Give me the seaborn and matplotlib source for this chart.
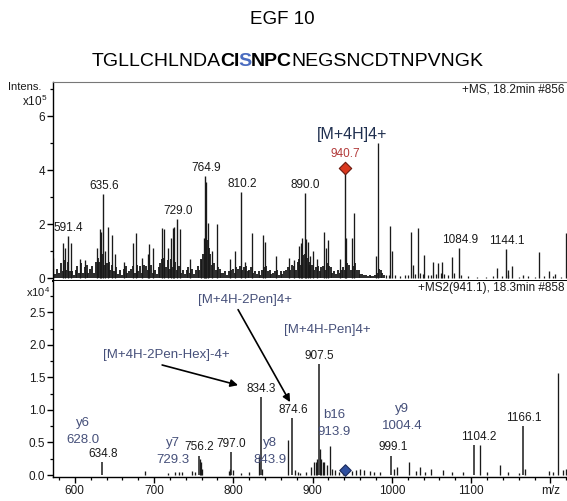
import matplotlib
matplotlib.use("Agg")
import matplotlib.pyplot as plt
from matplotlib.ticker import MultipleLocator, FixedLocator, FixedFormatter, NullLocator
import pandas as pd
import seaborn as sns

# ---------------- data ----------------
title = "EGF 10"
seq_text = ["TGLLCHLNDA", "CI", "S", "NPC", "NEGSNCDTNPVNGK"]
seq_weight = ["normal", "bold", "bold", "bold", "normal"]
seq_color = ["black", "black", "#4a6cc0", "black", "black"]

# MS scan, intensity in units of 1e5
ms1_peak_mz = [573, 585, 587.5, 595, 606, 613, 628, 631.8, 633, 638,
               642, 647, 651, 662, 673.4, 677, 685, 692, 694, 699,
               710, 712.6, 717, 721, 724, 725.5, 732.7, 745, 759, 763,
               765.8, 768, 773, 779.4, 796, 802, 815, 823.6, 837.5, 840,
               854, 870, 876, 883, 885, 887, 892, 894, 897, 901,
               906, 914.5, 917, 919.6, 934, 942.3, 950, 952.2, 980, 983,
               997.7, 1000, 1023.9, 1027, 1033.4, 1040.6, 1052, 1058.3, 1063.4, 1075.6,
               1133, 1146.5, 1151, 1165.5, 1185.7, 1198, 1206, 1219.4]
ms1_peak_int = [.75, 1.3, 1.1, 1.3, .7, .65, 1.1, 1.8, 1.7, 1.0,
                1.9, 1.6, .9, .6, 1.3, 1.65, .75, .9, 1.25, 1.1,
                1.85, 1.8, 1.1, 1.5, 1.85, 1.9, 1.8, .7, .7, 1.5,
                3.55, 2.05, 1.0, 2.0, .7, 1.0, .6, 1.65, 1.6, 1.35,
                .8, .75, .65, 1.2, 1.3, 1.5, 1.45, 1.35, .8, 1.0,
                .7, 1.7, 1.1, 1.4, .7, 1.5, 1.5, 2.4, .8, 5.0,
                1.93, 1.0, 1.7, .5, 1.86, .85, .6, .55, .6, .78,
                .37, .3, .45, .12, .95, .25, .15, 1.67]

# dense low-level signal under the MS scan
ms1_grass_mz = [573, 575, 577.5, 580, 582, 584.5, 587, 589, 591.5, 594,
                596, 598.5, 601, 603, 605.5, 608, 610, 612.5, 615, 617,
                619.5, 622, 624, 626.5, 629, 631, 633.5, 636, 638, 640.5,
                643, 645, 647.5, 650, 652, 654.5, 657, 659, 661.5, 664,
                666, 668.5, 671, 673, 675.5, 678, 680, 682.5, 685, 687,
                689.5, 692, 694, 696.5, 699, 701, 703.5, 706, 708, 710.5,
                713, 715, 717.5, 720, 722, 724.5, 727, 729, 731.5, 734,
                736, 738.5, 741, 743, 745.5, 748, 750, 752.5, 755, 757,
                759.5, 762, 764, 766.5, 769, 771, 773.5, 776, 778, 780.5,
                783, 785, 787.5, 790, 792, 794.5, 797, 799, 801.5, 804,
                806, 808.5, 811, 813, 815.5, 818, 820, 822.5, 825, 827,
                829.5, 832, 834, 836.5, 839, 841, 843.5, 846, 848, 850.5,
                853, 855, 857.5, 860, 862, 864.5, 867, 869, 871.5, 874,
                876, 878.5, 881, 883, 885.5, 888, 890, 892.5, 895, 897,
                899.5, 902, 904, 906.5, 909, 911, 913.5, 916, 918, 920.5,
                923, 925, 927.5, 930, 932, 934.5, 937, 939, 941.5, 944,
                946, 948.5, 951, 953, 955.5, 958, 960, 962.5, 965, 967,
                969.5, 972, 974, 976.5, 979, 981, 983.5, 986, 988, 990.5]
ms1_grass_int = [.4, .15, .35, .2, .55, .25, .65, .3, .6, .25,
                 .25, .12, .3, .45, .2, .55, .2, .4, .5, .2,
                 .35, .45, .2, .6, .75, .6, 1.1, .9, .5, .55,
                 .6, .3, .5, .25, .4, .15, .3, .12, .35, .45,
                 .2, .25, .35, .45, .2, .5, .25, .45, .2, .5,
                 .45, .3, .4, .5, .2, .3, .15, .4, .55, .7,
                 .75, .4, .65, .35, .7, .4, .6, .3, .45, .2,
                 .3, .15, .3, .4, .2, .35, .15, .3, .45, .3,
                 .7, .9, 1.2, 1.4, 1.1, .9, .5, .55, .3, .4,
                 .35, .2, .2, .25, .1, .25, .3, .35, .2, .4,
                 .35, .45, .3, .4, .45, .25, .3, .4, .2, .25,
                 .15, .25, .12, .3, .4, .45, .25, .3, .15, .2,
                 .25, .3, .12, .25, .15, .25, .3, .4, .3, .5,
                 .45, .3, .6, .7, .5, .85, .9, .75, .5, .6,
                 .5, .3, .4, .45, .25, .4, .45, .3, .55, .45,
                 .4, .2, .25, .15, .3, .2, .3, .4, .3, .55,
                 .5, .3, .45, .55, .3, .3, .15, .15, .1, .12,
                 .08, .1, .06, .08, .1, .2, .35, .3, .2, .12]

ms1_minor_mz = [993, 996, 1004, 1010, 1016, 1021, 1029, 1036, 1039, 1045,
                1049, 1056, 1062, 1066, 1071, 1079, 1087, 1096, 1108, 1119,
                1128, 1139, 1147, 1160, 1172, 1181, 1192, 1203, 1214]
ms1_minor_int = [.1, .12, .1, .08, .12, .1, .15, .2, .15, .12,
                 .1, .15, .2, .15, .12, .18, .1, .06, .05, .05,
                 .06, .08, .12, .05, .06, .05, .08, .06, .05]

ms1_lab_mz = [591.4, 635.6, 729.0, 764.9, 810.2, 890.0, 1084.9, 1144.1]
ms1_lab_int = [1.55, 3.1, 2.2, 3.78, 3.2, 3.15, 1.12, 1.07]
prec_mz = 940.7
prec_int = 4.07
prec_label = "[M+4H]4+"

# MS2 scan, intensity in units of 1e4
ms2_peak_mz = [689, 718, 727, 731, 735, 748, 752, 757.5, 759, 760.5,
               794, 796, 799, 810, 820, 833, 836, 869, 878, 881,
               884, 892, 898, 902, 904, 906, 909.5, 911, 913, 915,
               918, 922, 925, 928, 933, 938, 950, 955, 960, 965,
               972, 978, 985, 1003, 1007, 1022, 1030, 1036, 1042, 1050,
               1064, 1076, 1090, 1111.3, 1120, 1137, 1147, 1160, 1168, 1198,
               1203, 1209.7, 1216, 1220]
ms2_peak_int = [.06, .03, .04, .05, .04, .06, .05, .25, .2, .1,
                .06, .1, .08, .03, .05, .3, .1, .54, .08, .05,
                .03, .04, .12, .2, .2, .25, .4, .25, .2, .2,
                .15, .45, .1, .08, .05, .07, .06, .08, .1, .07,
                .06, .05, .04, .1, .12, .2, .06, .12, .05, .1,
                .08, .05, .05, .46, .04, .15, .04, .03, .1, .06,
                .05, 1.57, .08, .1]
ms2_lab_mz = [634.8, 756.2, 797.0, 834.3, 874.6, 907.5, 999.1, 1104.2, 1166.1]
ms2_lab_int = [0.2, 0.3, 0.35, 1.2, 0.88, 1.7, 0.3, 0.46, 0.75]
iso_mz = 941.1
iso_int = 0.07

frag_names = ["y6", "y7", "y8", "b16", "y9"]
frag_mz = [628.0, 729.3, 843.9, 913.9, 1004.4]

loss_labels = ["[M+4H-2Pen]4+", "[M+4H-Pen]4+", "[M+4H-2Pen-Hex]-4+"]

ms1_ticks = [0, 2, 4, 6]
ms2_ticks = [0.0, 0.5, 1.0, 1.5, 2.0, 2.5]
mz_ticks = [600, 700, 800, 900, 1000, 1100, 1200]
mz_ticklabels = ["600", "700", "800", "900", "1000", "1100", "m/z"]

# ---------------- style ----------------
sns.set_theme(style="ticks")
plt.rcParams["font.family"] = ["Liberation Sans", "DejaVu Sans"]
plt.rcParams["mathtext.fontset"] = "custom"
plt.rcParams["mathtext.rm"] = "Liberation Sans"
plt.rcParams["mathtext.it"] = "Liberation Sans:italic"

W, H = 567, 501
fig = plt.figure(figsize=(W / 100, H / 100), dpi=100)
fig.patch.set_facecolor("white")


def fx(px):
    return px / W


def fy(py):
    return 1 - py / H


left = fx(53)
width = 1 - left
ax1 = fig.add_axes([left, fy(281), width, (281 - 82) / H])
ax2 = fig.add_axes([left, fy(477), width, (477 - 281) / H])

XLIM = (572.5, 1221)
INK = "#1a1a1a"
FRAG = "#46507a"

# ---- MS scan ----
ax1.vlines(ms1_grass_mz, 0, ms1_grass_int, color=INK, lw=1.3)
ax1.vlines(ms1_peak_mz, 0, ms1_peak_int, color=INK, lw=0.95)
ax1.vlines(ms1_minor_mz, 0, ms1_minor_int, color=INK, lw=0.9)
ax1.vlines(ms1_lab_mz, 0, ms1_lab_int, color=INK, lw=1.0)
ax1.vlines([prec_mz], 0, [prec_int], color=INK, lw=1.0)
prec_df = pd.DataFrame({"mz": [prec_mz], "inten": [prec_int]})
sns.scatterplot(data=prec_df, x="mz", y="inten", ax=ax1, marker="D", s=40,
                color="#d9381e", edgecolor="#6a1a10", linewidth=0.8, zorder=5, legend=False)
for m, h in zip(ms1_lab_mz, ms1_lab_int):
    ax1.annotate(f"{m:.1f}", xy=(m, h), xytext=(0.5, 1.5), textcoords="offset points",
                 ha="center", va="bottom", fontsize=8.5, color=INK, annotation_clip=False)
ax1.annotate(f"{prec_mz:.1f}", xy=(prec_mz, prec_int), xytext=(0.5, 6), textcoords="offset points",
             ha="center", va="bottom", fontsize=8.5, color="#b23a3a")
ax1.annotate(prec_label, xy=(prec_mz, prec_int), xytext=(5, 19), textcoords="offset points",
             ha="center", va="bottom", fontsize=11.5, color="#1f2f4f")

ax1.set_xlim(*XLIM)
ax1.set_ylim(-0.11, 7.26)
ax1.yaxis.set_major_locator(FixedLocator(ms1_ticks))
ax1.yaxis.set_major_formatter(FixedFormatter([str(t) for t in ms1_ticks]))
ax1.yaxis.set_minor_locator(FixedLocator([1, 3, 5, 7]))
ax1.xaxis.set_major_locator(NullLocator())
ax1.xaxis.set_minor_locator(NullLocator())
ax1.spines["right"].set_visible(False)
ax1.spines["top"].set_color("#777777")
ax1.spines["top"].set_linewidth(0.8)
ax1.spines["left"].set_color("black")
ax1.spines["left"].set_linewidth(1.0)
ax1.spines["bottom"].set_color("black")
ax1.spines["bottom"].set_linewidth(1.4)
ax1.set_xlabel("")
ax1.set_ylabel("")

# ---- MS2 scan ----
ax2.vlines(ms2_peak_mz, 0, ms2_peak_int, color=INK, lw=0.95)
ax2.vlines(ms2_lab_mz, 0, ms2_lab_int, color=INK, lw=1.1)
iso_df = pd.DataFrame({"mz": [iso_mz], "inten": [iso_int]})
sns.scatterplot(data=iso_df, x="mz", y="inten", ax=ax2, marker="D", s=34,
                color="#2f4f9f", edgecolor="#1a2a5a", linewidth=0.8, zorder=5, legend=False)
lab_dx = {1104.2: 3.0, 999.1: 1.5}
for m, h in zip(ms2_lab_mz, ms2_lab_int):
    ax2.annotate(f"{m:.1f}", xy=(m, h), xytext=(lab_dx.get(m, 0.5), 1.5), textcoords="offset points",
                 ha="center", va="bottom", fontsize=8.5, color=INK)

# fragment ion labels (ion name above its m/z)
frag_pos = [(610.3, 0.54), (724.0, 0.23), (846.0, 0.23), (927.5, 0.66), (1013.0, 0.75)]
for name, m, (px, py) in zip(frag_names, frag_mz, frag_pos):
    ax2.text(px, py, f"{m:.1f}", ha="center", va="center", fontsize=9.5, color=FRAG)
    ax2.annotate(name, xy=(px, py), xytext=(0, 12.5), textcoords="offset points",
                 ha="center", va="center", fontsize=9.5, color=FRAG)

# neutral-loss annotations with arrows
ax2.text(815, 2.69, loss_labels[0], ha="center", va="center", fontsize=9.5, color=FRAG)
ax2.text(918.5, 2.22, loss_labels[1], ha="center", va="center", fontsize=9.5, color=FRAG)
ax2.text(715, 1.85, loss_labels[2], ha="center", va="center", fontsize=9.5, color=FRAG)
arrow = dict(arrowstyle="-|>", color="black", lw=1.2, mutation_scale=11, shrinkA=0, shrinkB=0)
ax2.annotate("", xy=(806, 1.38), xytext=(710.2, 1.69), arrowprops=arrow)
ax2.annotate("", xy=(871.6, 1.12), xytext=(806, 2.54), arrowprops=arrow)

ax2.set_xlim(*XLIM)
ax2.set_ylim(-0.03, 2.98)
ax2.yaxis.set_major_locator(FixedLocator(ms2_ticks))
ax2.yaxis.set_major_formatter(FixedFormatter([f"{t:.1f}" for t in ms2_ticks]))
ax2.yaxis.set_minor_locator(MultipleLocator(0.25))
ax2.xaxis.set_major_locator(FixedLocator(mz_ticks))
ax2.xaxis.set_major_formatter(FixedFormatter(mz_ticklabels))
ax2.xaxis.set_minor_locator(MultipleLocator(20))
ax2.spines["right"].set_visible(False)
ax2.spines["top"].set_visible(False)
for s in ("left", "bottom"):
    ax2.spines[s].set_color("black")
    ax2.spines[s].set_linewidth(1.0)
ax2.set_xlabel("")
ax2.set_ylabel("")

for ax in (ax1, ax2):
    ax.set_facecolor("white")
    ax.grid(False)
    ax.tick_params(axis="both", which="major", direction="out", length=4, width=1.0,
                   labelsize=8.5, pad=1.5, color="black", labelcolor=INK)
    ax.tick_params(axis="both", which="minor", direction="out", length=2.2, width=0.9, color="black")

# scan headers
fig.text(fx(565), fy(90), "+MS, 18.2min #856", ha="right", va="center", fontsize=8.5, color=INK)
fig.text(fx(565), fy(288), "+MS2(941.1), 18.3min #858", ha="right", va="center", fontsize=8.5, color=INK)

# intensity labels
fig.text(fx(8), fy(87), "Intens.", ha="left", va="center", fontsize=8, color=INK)
fig.text(fx(47), fy(101), r"x10$^5$", ha="right", va="center", fontsize=8.5, color=INK)
fig.text(fx(50), fy(292), r"x10$^4$", ha="right", va="center", fontsize=8, color=INK)

# title and peptide sequence (bold / coloured residues drawn as consecutive pieces)
fig.text(fx(282), fy(24), title, ha="center", va="baseline", fontsize=13.5, color="black")
prev = fig.text(fx(92), fy(70), seq_text[0], ha="left", va="bottom", fontsize=14,
                fontweight=seq_weight[0], color=seq_color[0])
for s, w, c in zip(seq_text[1:], seq_weight[1:], seq_color[1:]):
    prev = ax1.annotate(s, xy=(1, 0), xycoords=prev, xytext=(-0.6, 0), textcoords="offset points",
                        ha="left", va="bottom", fontsize=14,
                        fontweight=w, color=c, annotation_clip=False)

fig.savefig("out.png", dpi=100, facecolor="white")
